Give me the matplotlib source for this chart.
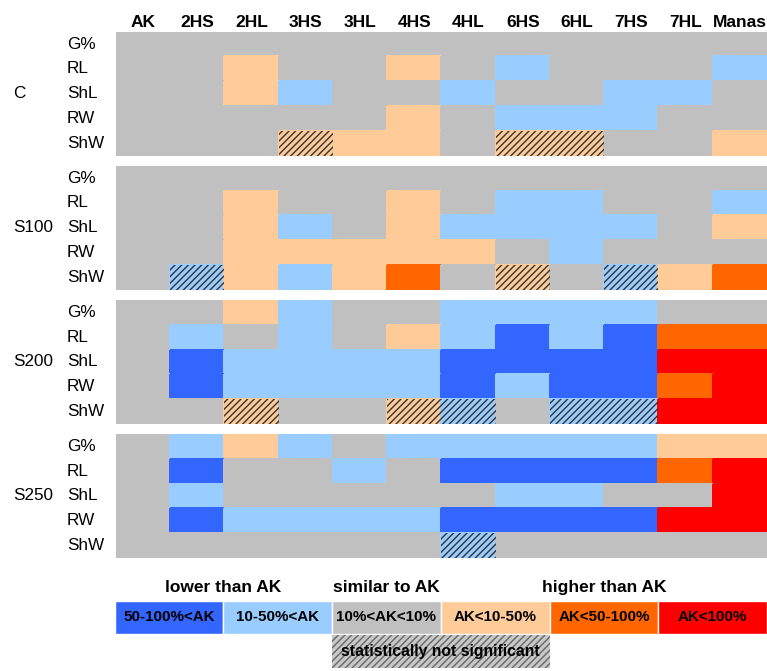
import matplotlib.pyplot as plt
import matplotlib.transforms as mtransforms
import numpy as np
from matplotlib.colors import ListedColormap, BoundaryNorm
from matplotlib.patches import Rectangle

plt.rcParams['font.family'] = ['Liberation Sans', 'DejaVu Sans']
plt.rcParams['hatch.linewidth'] = 1.0

genotypes = ['AK', '2HS', '2HL', '3HS', '3HL', '4HS', '4HL', '6HS', '6HL', '7HS', '7HL', 'Manas']
traits = ['G%', 'RL', 'ShL', 'RW', 'ShW']
treatments = ['C', 'S100', 'S200', 'S250']

# class of each cell: 0 = 50-100% lower, 1 = 10-50% lower, 2 = similar,
# 3 = 10-50% higher, 4 = 50-100% higher, 5 = >100% higher
codes_c = [
    [2, 2, 2, 2, 2, 2, 2, 2, 2, 2, 2, 2],
    [2, 2, 3, 2, 2, 3, 2, 1, 2, 2, 2, 1],
    [2, 2, 3, 1, 2, 2, 1, 2, 2, 1, 1, 2],
    [2, 2, 2, 2, 2, 3, 2, 1, 1, 1, 2, 2],
    [2, 2, 2, 3, 3, 3, 2, 3, 3, 2, 2, 3],
]
codes_s100 = [
    [2, 2, 2, 2, 2, 2, 2, 2, 2, 2, 2, 2],
    [2, 2, 3, 2, 2, 3, 2, 1, 1, 2, 2, 1],
    [2, 2, 3, 1, 2, 3, 1, 1, 1, 1, 2, 3],
    [2, 2, 3, 3, 3, 3, 3, 2, 1, 2, 2, 2],
    [2, 1, 3, 1, 3, 4, 2, 3, 2, 1, 3, 4],
]
codes_s200 = [
    [2, 2, 3, 1, 2, 2, 1, 1, 1, 1, 2, 2],
    [2, 1, 2, 1, 2, 3, 1, 0, 1, 0, 4, 4],
    [2, 0, 1, 1, 1, 1, 0, 0, 0, 0, 5, 5],
    [2, 0, 1, 1, 1, 1, 0, 1, 0, 0, 4, 5],
    [2, 2, 3, 2, 2, 3, 1, 2, 1, 1, 5, 5],
]
codes_s250 = [
    [2, 1, 3, 1, 2, 1, 1, 1, 1, 1, 3, 3],
    [2, 0, 2, 2, 1, 2, 0, 0, 0, 0, 4, 5],
    [2, 1, 2, 2, 2, 2, 2, 1, 1, 2, 2, 5],
    [2, 0, 1, 1, 1, 1, 0, 0, 0, 0, 5, 5],
    [2, 2, 2, 2, 2, 2, 1, 2, 2, 2, 2, 2],
]
# (trait index, genotype index) of cells that are not significant
ns_c = [(4, 3), (4, 7), (4, 8)]
ns_s100 = [(4, 1), (4, 7), (4, 9)]
ns_s200 = [(4, 2), (4, 5), (4, 6), (4, 8), (4, 9)]
ns_s250 = [(4, 6)]

class_labels = ['50-100%<AK', '10-50%<AK', '10%<AK<10%', 'AK<10-50%', 'AK<50-100%', 'AK<100%']
colors = ['#3366ff', '#99ccff', '#c0c0c0', '#ffcc99', '#ff6600', '#ff0000']

panels = [codes_c, codes_s100, codes_s200, codes_s250]
ns_cells = [ns_c, ns_s100, ns_s200, ns_s250]

W, H = 767, 671
fig = plt.figure(figsize=(W / 100, H / 100), dpi=100)

cmap = ListedColormap(colors)
norm = BoundaryNorm(np.arange(-0.5, 6.5), cmap.N)

left_px, right_px = 115.7, 767
panel_h = 124
panel_tops = [31.7, 165.7, 300, 434]

for k, (name, codes, ns) in enumerate(zip(treatments, panels, ns_cells)):
    top = panel_tops[k]
    ax = fig.add_axes([left_px / W, 1 - (top + panel_h) / H,
                       (right_px - left_px) / W, panel_h / H])
    data = np.array(codes)
    ax.pcolormesh(np.arange(len(genotypes) + 1), np.arange(len(traits) + 1), data,
                  cmap=cmap, norm=norm, edgecolors='face', linewidth=0.3)
    for (i, j) in ns:
        ax.add_patch(Rectangle((j, i), 1, 1, fill=False, hatch='/////',
                               edgecolor='#333333', linewidth=0))
    ax.set_xlim(0, len(genotypes))
    ax.set_ylim(len(traits), 0)
    for s in ax.spines.values():
        s.set_visible(False)
    ax.set_yticks([])
    if k == 0:
        ax.set_xticks(np.arange(len(genotypes)) + 0.5, labels=genotypes,
                      fontsize=12.5, fontweight='bold')
        ax.tick_params(axis='x', top=True, labeltop=True, bottom=False,
                       labelbottom=False, length=0, pad=1.5)
    else:
        ax.set_xticks([])
    trans = mtransforms.blended_transform_factory(fig.transFigure, ax.transData)
    for i, t in enumerate(traits):
        ax.text(66.7 / W, i + 0.5, t, transform=trans, ha='left', va='center',
                fontsize=12.3)
    ax.text(13.3 / W, len(traits) / 2, name, transform=trans, ha='left',
            va='center', fontsize=12.3)

# legend
leg_top, leg_bottom = 600.7, 668
lax = fig.add_axes([114.7 / W, 1 - leg_bottom / H, (767 - 114.7) / W,
                    (leg_bottom - leg_top) / H])
lax.set_xlim(0, 6)
lax.set_ylim(0, 2)
lax.axis('off')
xs = np.arange(len(class_labels)) + 0.5
lax.bar(xs, 0.98, bottom=1.02, width=1, color=colors, edgecolor='white', linewidth=1)
for x, lab in zip(xs, class_labels):
    lax.text(x, 1.51, lab, ha='center', va='center', fontsize=10.9, fontweight='bold')
lax.bar(3, 0.97, bottom=0, width=2, color='#c8c8c8', hatch='/////',
        edgecolor='#666666', linewidth=0)
lax.text(3, 0.48, 'statistically not significant', ha='center', va='center',
         fontsize=11.3, fontweight='bold')
for x, lab in [(1.0, 'lower than AK'), (2.5, 'similar to AK'), (4.5, 'higher than AK')]:
    lax.text(x, 2.38, lab, ha='center', va='center', fontsize=12.5,
             fontweight='bold', clip_on=False)

fig.savefig('out.png', dpi=100)
